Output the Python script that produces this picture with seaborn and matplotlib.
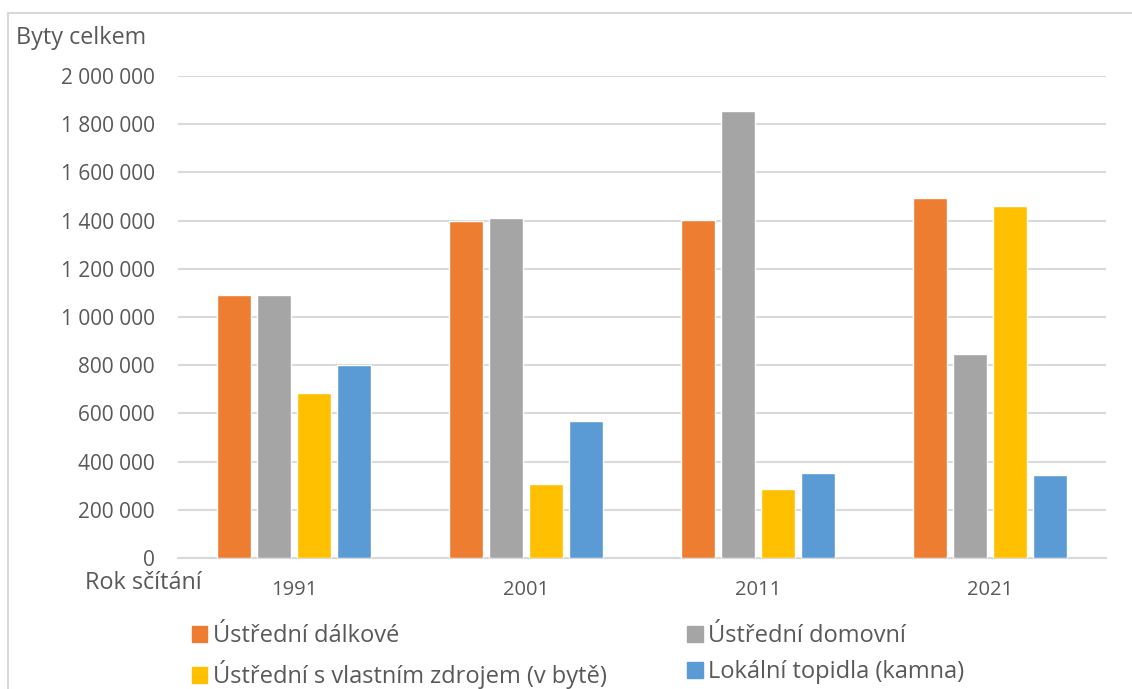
import pandas as pd
import matplotlib.pyplot as plt
import matplotlib.patches as mpatches
import seaborn as sns

# Data
years = ['1991', '2001', '2011', '2021']
dalkove = [1092000, 1400000, 1401000, 1494000]
domovni = [1092000, 1412000, 1855000, 846000]
vlastni = [686000, 308000, 288000, 1462000]
lokalni = [802000, 570000, 353000, 344000]
series = ['Ústřední dálkové', 'Ústřední domovní',
          'Ústřední s vlastním zdrojem (v bytě)', 'Lokální topidla (kamna)']
colors = ['#ED7D31', '#A5A5A5', '#FFC000', '#5B9BD5']

df = pd.DataFrame({
    'rok': years * 4,
    'byty': dalkove + domovni + vlastni + lokalni,
    'typ': [s for s in series for _ in years],
})

sns.set_style('white')
plt.rcParams['font.family'] = ['Open Sans', 'DejaVu Sans']
txt = '#595959'
grid = '#d9d9d9'

fig = plt.figure(figsize=(11.32, 6.89), dpi=100)
ax = fig.add_axes([178/1132, 1 - 558/689, (1106 - 178)/1132, (558 - 76)/689])

sns.barplot(data=df, x='rok', y='byty', hue='typ', hue_order=series,
            palette=colors, width=0.69, gap=0.15, saturation=1,
            ax=ax, legend=False, zorder=3)

ax.set_ylim(0, 2000000)
ax.set_xlim(-0.5, 3.5)
yt = list(range(0, 2000001, 200000))
ax.set_yticks(yt)
ax.set_yticklabels([f'{v:,}'.replace(',', ' ') for v in yt], color=txt, fontsize=15)
ax.yaxis.grid(True, color=grid, linewidth=1.5, zorder=0)
ax.tick_params(axis='y', length=0, pad=16.5)

# category separators as major ticks, labels on minor ticks
ax.set_xticks([-0.5, 0.5, 1.5, 2.5, 3.5])
ax.set_xticklabels([])
ax.tick_params(axis='x', which='major', length=8, width=1.5, color=grid, direction='out')
ax.set_xticks([0, 1, 2, 3], minor=True)
ax.set_xticklabels(years, minor=True, color=txt, fontsize=14.5)
ax.tick_params(axis='x', which='minor', length=0, pad=16)

for s in ['top', 'right', 'left']:
    ax.spines[s].set_visible(False)
ax.spines['bottom'].set_color(grid)
ax.spines['bottom'].set_linewidth(1.5)
ax.set_xlabel('')
ax.set_ylabel('')

fig.text(16/1132, 1 - 38/689, 'Byty celkem', color=txt, fontsize=16.8, va='center', ha='left')
fig.text(85/1132, 1 - 583/689, 'Rok sčítání', color=txt, fontsize=16.8, va='center', ha='left')

# legend filled column-wise, so order handles to read row by row
order = [0, 2, 1, 3]
handles = [mpatches.Patch(color=colors[i], label=series[i]) for i in order]
fig.legend(handles=handles, ncol=2, loc='upper left',
           bbox_to_anchor=(171/1132, 1 - 603/689), frameon=False,
           fontsize=17, labelcolor=txt, handlelength=0.64, handleheight=0.64,
           handletextpad=0.25, columnspacing=3.4, labelspacing=0.5)

# light frame of the chart area
fig.patches.append(mpatches.Rectangle((8/1132, -0.1), 2, 1 - 13/689 + 0.1,
                                      transform=fig.transFigure, fill=False,
                                      edgecolor=grid, linewidth=1.5))

plt.savefig('out.png', dpi=100)
plt.close()
